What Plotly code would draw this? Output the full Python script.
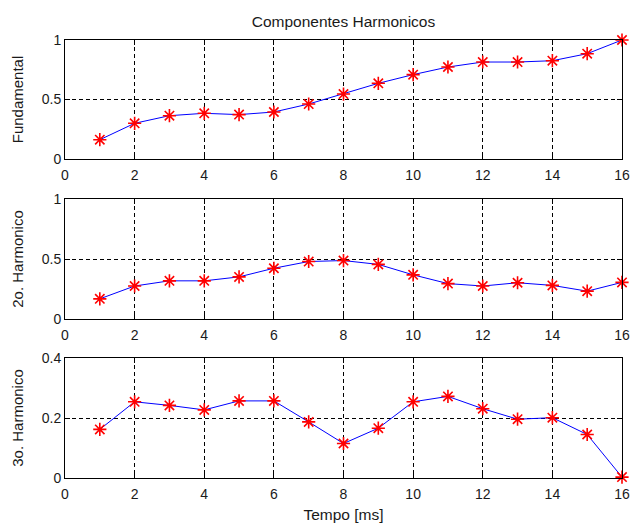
import plotly.graph_objects as go
from plotly.subplots import make_subplots

tempo = list(range(1, 17))
fundamental = [0.162, 0.300, 0.364, 0.384, 0.373, 0.395, 0.462, 0.546, 0.636, 0.709,
               0.773, 0.815, 0.815, 0.826, 0.885, 1.000]
harm2 = [0.168, 0.275, 0.318, 0.318, 0.351, 0.423, 0.479, 0.487, 0.455, 0.368,
         0.295, 0.275, 0.302, 0.280, 0.232, 0.305]
harm3 = [0.162, 0.254, 0.242, 0.227, 0.257, 0.257, 0.187, 0.115, 0.166, 0.254,
         0.272, 0.231, 0.196, 0.201, 0.145, 0.003]

series = [fundamental, harm2, harm3]
ylabels = ["Fundamental", "2o. Harmonico", "3o. Harmonico"]
yranges = [[0, 1], [0, 1], [0, 0.4]]
yticks = [[0, 0.5, 1], [0, 0.5, 1], [0, 0.2, 0.4]]
yticktext = [["0", "0.5", "1"], ["0", "0.5", "1"], ["0", "0.2", "0.4"]]
xticks = [0, 2, 4, 6, 8, 10, 12, 14, 16]
title = "Componentes Harmonicos"
xlabel = "Tempo [ms]"

W, H = 632, 525
domains = [[(H - 159) / H, (H - 40) / H],
           [(H - 319) / H, (H - 199) / H],
           [(H - 478) / H, (H - 358) / H]]

fig = make_subplots(rows=3, cols=1)
font = "Liberation Sans, Arial, sans-serif"
txt = "#1a1a1a"

for i, s in enumerate(series):
    fig.add_trace(go.Scatter(
        x=tempo, y=s, mode="lines+markers",
        line=dict(color="#0000ff", width=1),
        marker=dict(symbol="asterisk-open", size=11, color="#ff0000",
                    line=dict(color="#ff0000", width=1.6)),
        showlegend=False, cliponaxis=False,
    ), row=i + 1, col=1)
    fig.update_xaxes(range=[0, 16], tickvals=xticks, ticks="inside", ticklen=5,
                     tickcolor="black", showline=True, linecolor="black", linewidth=1,
                     mirror="ticks", showgrid=True, gridcolor="black", griddash="4px,3px",
                     gridwidth=1, zeroline=False, automargin=False,
                     ticklabelstandoff=3,
                     tickfont=dict(family=font, size=14, color=txt),
                     domain=[0, 1], row=i + 1, col=1)
    fig.update_yaxes(range=yranges[i], tickvals=yticks[i], ticktext=yticktext[i],
                     ticks="inside", ticklen=5, tickcolor="black",
                     showline=True, linecolor="black", linewidth=1, mirror="ticks",
                     showgrid=True, gridcolor="black", griddash="4px,3px", gridwidth=1,
                     zeroline=False, domain=domains[i], automargin=False,
                     tickfont=dict(family=font, size=14, color=txt),
                     title=dict(text=ylabels[i], font=dict(family=font, size=15, color=txt),
                                standoff=14),
                     row=i + 1, col=1)

fig.update_xaxes(title=dict(text=xlabel, font=dict(family=font, size=15.5, color=txt),
                            standoff=8), row=3, col=1)

fig.update_layout(
    width=W, height=H,
    margin=dict(l=65, r=10, t=0, b=0),
    paper_bgcolor="white", plot_bgcolor="white",
    title=dict(text=title, x=0.5, xref="paper", xanchor="center",
               y=1 - 22 / H, yref="container", yanchor="middle",
               font=dict(family=font, size=15.5, color=txt)),
)

fig.write_html("out.html")
